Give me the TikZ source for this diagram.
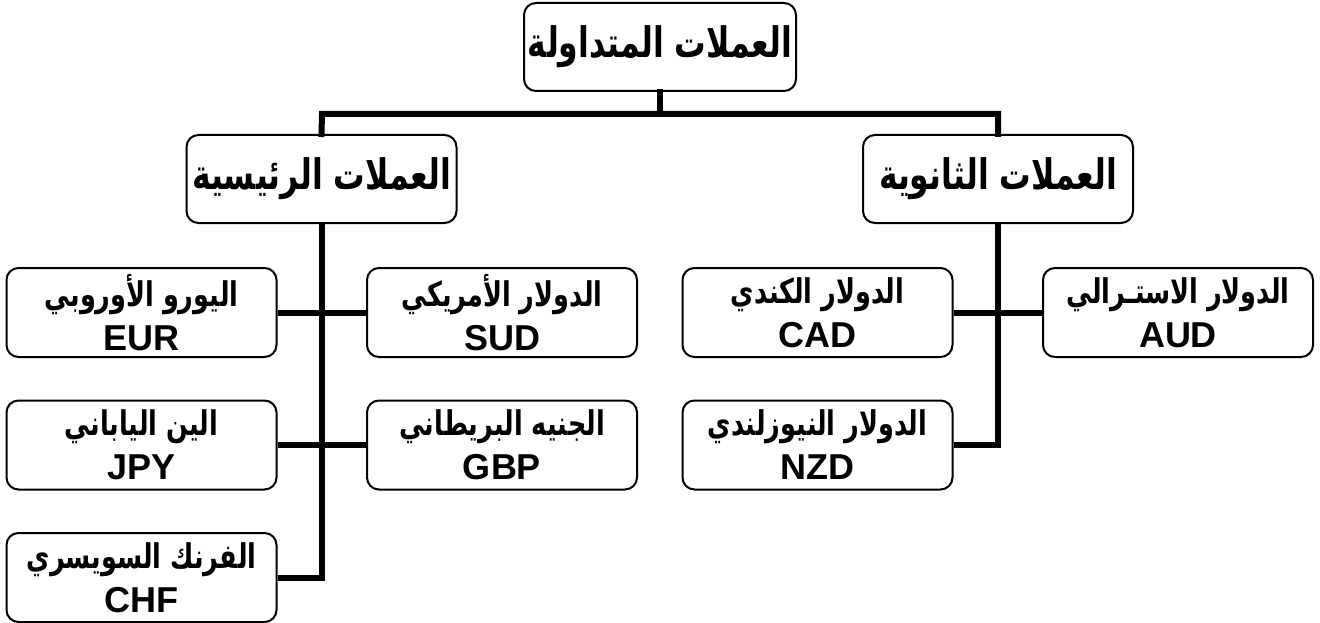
\documentclass[tikz,border=0pt]{standalone}
\usepackage{fontspec}
\TeXXeTstate=1
\newfontfamily\arabicfont[Script=Arabic, FakeStretch=0.75]{DejaVu Sans}
\newfontfamily\latinfont{Liberation Sans}
\newcommand{\ar}[1]{{\arabicfont\bfseries\beginR #1\endR}}
\newcommand{\la}[1]{{\latinfont\bfseries\fontsize{36}{44}\selectfont #1}}
\tikzset{
  box/.style={draw=black, line width=2pt, rounded corners=12pt, fill=white,
    minimum width=270pt, minimum height=89pt, inner sep=0pt, align=center},
  head/.style={box, font=\fontsize{42}{48}\selectfont},
  leaf/.style={box, font=\fontsize{34}{44}\selectfont},
  conn/.style={line width=6pt, line cap=rect},
}
\begin{document}
\begin{tikzpicture}[x=1pt,y=-1pt]
\useasboundingbox (0,0) rectangle (1320,623);
\coordinate (hl) at (322,114);
\coordinate (hr) at (998,114);
\node[head, minimum width=272pt, minimum height=88pt] (top) at (660,47) {\ar{العملات المتداولة}};
\node[head, minimum height=88pt] (lm) at (321.5,179) {\ar{العملات الرئيسية}};
\node[head, minimum height=88pt] (rm) at (998,179) {\ar{العملات الثانوية}};
\node[leaf] (eur) at (141.5,312.5) {\ar{اليورو الأوروبي}\\\la{EUR}};
\node[leaf] (sud) at (502,312.5) {\ar{الدولار الأمريكي}\\\la{SUD}};
\node[leaf] (jpy) at (141.5,445) {\ar{الين الياباني}\\\la{JPY}};
\node[leaf] (gbp) at (502,445) {\ar{الجنيه البريطاني}\\\la{GBP}};
\node[leaf] (chf) at (141.5,577.5) {\ar{الفرنك السويسري}\\\la{CHF}};
\node[leaf] (cad) at (817.5,312.5) {\ar{الدولار الكندي}\\\la{CAD}};
\node[leaf] (aud) at (1178,312.5) {\ar{الدولار الاستـرالي}\\\la{AUD}};
\node[leaf] (nzd) at (817.5,445) {\ar{الدولار النيوزلندي}\\\la{NZD}};
\draw[conn] (top.south) -- (top.south |- hl);
\draw[conn] (lm.north) -- (hl) -- (hr) -- (rm.north);
\draw[conn, line cap=butt] (lm.south) -- (lm.south |- chf.east) -- (chf.east);
\draw[conn, line cap=butt] (eur.east) -- (sud.west);
\draw[conn, line cap=butt] (jpy.east) -- (gbp.west);
\draw[conn, line cap=butt] (rm.south) -- (rm.south |- nzd.east) -- (nzd.east);
\draw[conn, line cap=butt] (cad.east) -- (aud.west);
\end{tikzpicture}
\end{document}
